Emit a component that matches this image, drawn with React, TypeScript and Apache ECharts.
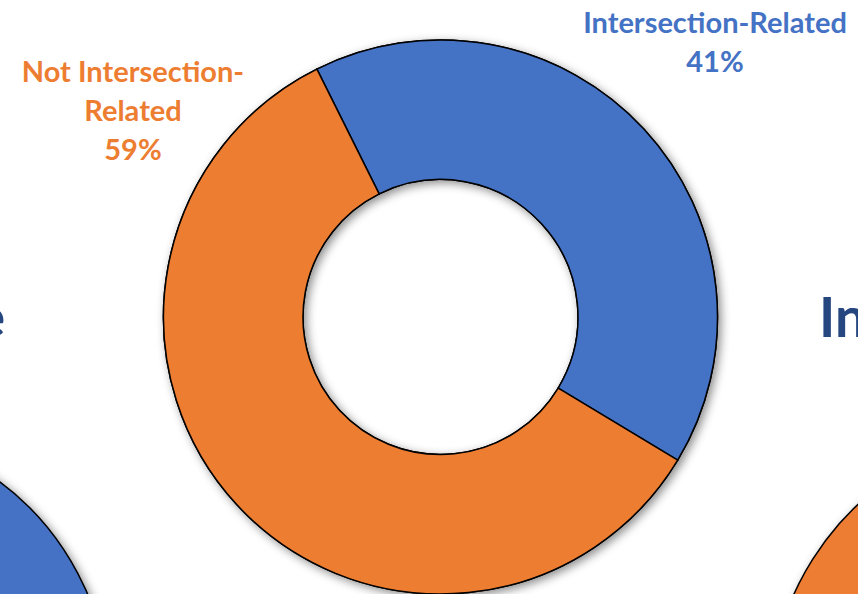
import React, { useEffect, useRef } from "react";
import * as echarts from "echarts";

const categories = ["Intersection-Related", "Not Intersection-Related"];
const displayLabels = ["Intersection-Related", "Not Intersection-\nRelated"];
const shares = [41, 59];
const sliceColors = ["#4472C4", "#ED7D31"];
const labelSpots = [
  [715, 41],
  [133, 109],
];

export default function App() {
  const ref = useRef<HTMLDivElement>(null);
  useEffect(() => {
    if (!ref.current) return;
    const chart = echarts.init(ref.current, null, { renderer: "svg" });
    const data = categories.map((name, i) => ({
      name,
      value: shares[i],
      itemStyle: { color: sliceColors[i] },
      label: { color: sliceColors[i] },
    }));
    const shadowCommon = {
      shadowBlur: 10,
      shadowOffsetX: 3,
      shadowOffsetY: 3,
      shadowColor: "rgba(0,0,0,0.45)",
    };
    chart.setOption({
      animation: false,
      backgroundColor: "#ffffff",
      graphic: [
        {
          type: "circle",
          z: 1,
          shape: { cx: -167, cy: 703, r: 277 },
          style: { fill: "#4472C4", stroke: "#000", lineWidth: 1.5, ...shadowCommon },
        },
        {
          type: "circle",
          z: 1,
          shape: { cx: 1047, cy: 707, r: 277 },
          style: { fill: "#ED7D31", stroke: "#000", lineWidth: 1.5, ...shadowCommon },
        },
        {
          type: "text",
          z: 5,
          x: 819,
          y: 316,
          style: {
            text: "In",
            fill: "#25467E",
            font: "bold 55px Lato",
            textAlign: "left",
            textVerticalAlign: "middle",
          },
        },
        {
          type: "text",
          z: 5,
          x: 5,
          y: 316,
          style: {
            text: "e",
            fill: "#25467E",
            font: "bold 55px Lato",
            textAlign: "right",
            textVerticalAlign: "middle",
          },
        },
      ],
      series: [
        {
          type: "pie",
          silent: true,
          center: [440.5, 317],
          radius: [137.5, 277],
          startAngle: 116.5,
          clockwise: true,
          label: { show: false },
          labelLine: { show: false },
          itemStyle: { borderColor: "#000", borderWidth: 1.5, ...shadowCommon },
          data: data.map((d) => ({ ...d, label: { show: false } })),
          z: 2,
        },
        {
          type: "pie",
          center: [440.5, 317],
          radius: [137.5, 277],
          startAngle: 116.5,
          clockwise: true,
          itemStyle: { borderColor: "#000", borderWidth: 1.5 },
          labelLine: { show: false },
          label: {
            show: true,
            fontFamily: "Lato",
            fontWeight: "bold",
            fontSize: 29,
            lineHeight: 39,
            align: "center",
            overflow: "none",
            width: 400,
            formatter: (p: any) => `${displayLabels[p.dataIndex]}\n${p.value}%`,
          },
          labelLayout: (params: any) => ({
            x: labelSpots[params.dataIndex][0],
            y: labelSpots[params.dataIndex][1],
            align: "center",
            verticalAlign: "middle",
          }),
          data,
          z: 3,
        },
      ],
    });
    return () => chart.dispose();
  }, []);
  return (
    <div
      ref={ref}
      style={{ position: "fixed", left: 0, top: 0, width: 858, height: 594 }}
    />
  );
}
